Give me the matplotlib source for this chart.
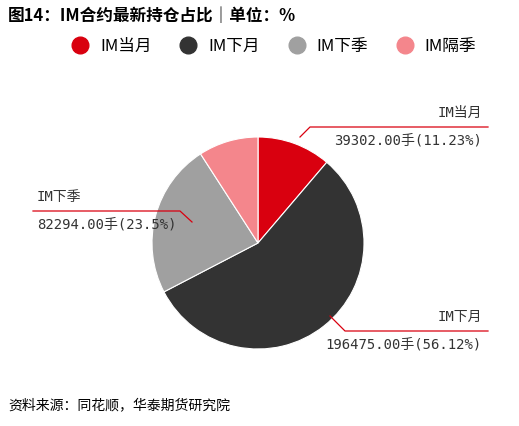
import matplotlib.pyplot as plt
from matplotlib.lines import Line2D

plt.rcParams['font.family'] = ['Noto Sans CJK SC', 'DejaVu Sans']

labels = ['IM当月', 'IM下月', 'IM下季', 'IM隔季']
values = [39302.00, 196475.00, 82294.00, 31902.00]
pcts = ['11.23%', '56.12%', '23.5%', '9.1%']
colors = ['#d9000f', '#333333', '#a0a0a0', '#f4868c']

W, H = 519, 426
fig = plt.figure(figsize=(W / 100, H / 100), dpi=100)
ax = fig.add_axes([0, 0, 1, 1])

def Y(p):
    return H - p

ax.pie(values, colors=colors, startangle=90, counterclock=False,
       center=(258, Y(243)), radius=106, frame=True,
       wedgeprops=dict(edgecolor='white', linewidth=0.8))
ax.set_xlim(0, W)
ax.set_ylim(0, H)
ax.set_aspect('equal')
ax.axis('off')

lc = '#d9000f'
lw = 0.9
mono = ['DejaVu Sans Mono', 'Noto Sans CJK SC']
kw = dict(fontsize=10, color='#333333', family=mono)
# IM当月
ax.plot([300, 310, 488], [Y(137), Y(127), Y(127)], color=lc, lw=lw)
ax.text(482, Y(120), labels[0], ha='right', va='bottom', **kw)
ax.text(482, Y(134), f'{values[0]:.2f}手({pcts[0]})', ha='right', va='top', **kw)
# IM下季
ax.plot([33, 180, 192], [Y(211), Y(211), Y(222)], color=lc, lw=lw)
ax.text(37, Y(204), labels[2], ha='left', va='bottom', **kw)
ax.text(37, Y(218), f'{values[2]:.2f}手({pcts[2]})', ha='left', va='top', **kw)
# IM下月
ax.plot([330, 345, 488], [Y(316), Y(331), Y(331)], color=lc, lw=lw)
ax.text(482, Y(324), labels[1], ha='right', va='bottom', **kw)
ax.text(482, Y(338), f'{values[1]:.2f}手({pcts[1]})', ha='right', va='top', **kw)

fig.text(8 / W, 1 - 16 / H, '图14：IM合约最新持仓占比｜单位：%', fontsize=12,
         fontweight='bold', va='center', ha='left')

handles = [Line2D([], [], marker='o', ls='', color=c, markersize=12) for c in colors]
fig.legend(handles, labels, loc='center', bbox_to_anchor=(270 / W, 1 - 46 / H), ncol=4,
           frameon=False, fontsize=12, handletextpad=0.2, columnspacing=1.2)

fig.text(8 / W, 1 - 405 / H, '资料来源：同花顺，华泰期货研究院', fontsize=10,
         style='italic', va='center', ha='left')

fig.savefig('out.png', dpi=100)
